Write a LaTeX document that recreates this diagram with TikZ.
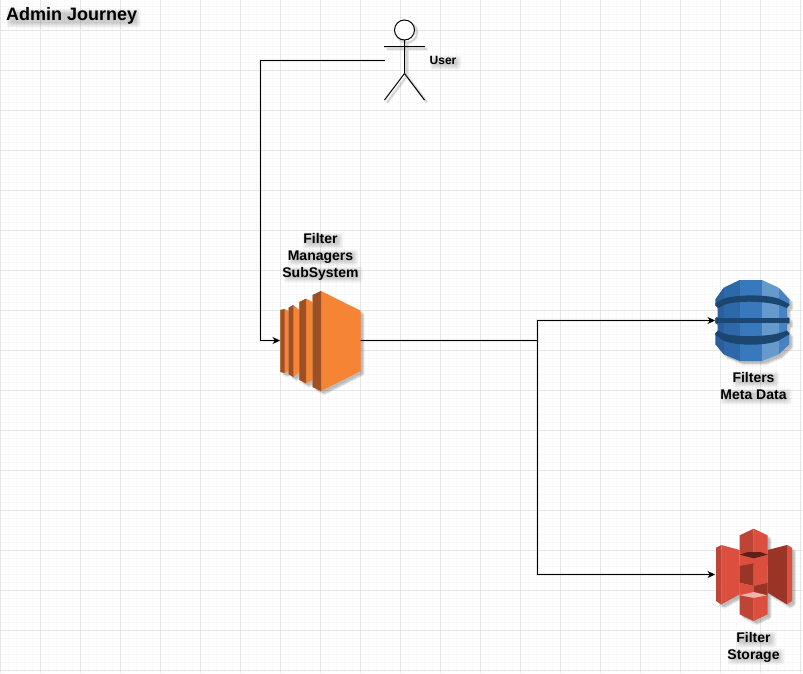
\documentclass[tikz,border=0pt]{standalone}
\usepackage{fontspec}
\setmainfont{Liberation Sans}
\usetikzlibrary{arrows.meta}
\definecolor{gridminor}{HTML}{F8F8F8}
\definecolor{gridmajor}{HTML}{E6E6E6}
\definecolor{ecmain}{HTML}{F58534}
\definecolor{ecdark}{HTML}{9D5025}
\definecolor{dbA}{HTML}{2A5F9C}
\definecolor{dbB}{HTML}{2D68A8}
\definecolor{dbC}{HTML}{3878BC}
\definecolor{dbD}{HTML}{6699CC}
\definecolor{dbE}{HTML}{4583C2}
\definecolor{dbBand}{HTML}{1A4670}
\definecolor{sMain}{HTML}{DC4F3F}
\definecolor{sMid}{HTML}{BE4436}
\definecolor{sDark}{HTML}{9A3427}
\definecolor{sDeep}{HTML}{5E1F18}
\definecolor{sLight}{HTML}{F2B3AB}
\tikzset{
  x=1pt,y=1pt,
  anchorbox/.style={inner sep=0pt,outer sep=0pt,draw=none,minimum width=#1},
  conn/.style={line width=1pt,black,-{Stealth[length=7.5pt,width=7pt]}},
  connshade/.style={line width=2.4pt,black,opacity=.07},
  label/.style={font=\bfseries\fontsize{14}{17}\selectfont,align=center,inner sep=0pt,text=black},
  icon/.style={x=0.33333pt,y=-0.33333pt},
  shade/.style={fill=black,opacity=.07,draw=none},
  smudge/.style={fill=black,opacity=.05,draw=none,rounded corners=2.5pt},
}
% soft drop shadow behind one line of text: centre x, centre y, width, height
\newcommand{\softshade}[4]{%
  \foreach \g in {3,1.5,0,-1.2}{
    \fill[smudge] ({#1+2.5-#3/2-\g},{-#2-2.5+#4/2+\g}) rectangle ({#1+2.5+#3/2+\g},{-#2-2.5-#4/2-\g});
  }
}
\newcommand{\ecoutline}{(31,270)--(44,267)--(56,273)--(56,263)--(70,255)--(88,270)--(88,246)--(108,236)--(128,246)--(128,225)--(153,213)--(272,272)--(272,453)--(153,513)--(128,501)--(128,480)--(108,490)--(88,480)--(88,456)--(70,471)--(56,463)--(56,453)--(44,459)--(31,456)--cycle}
\newcommand{\dboutline}{(10,70)--(35,35)--(83,12)--(150,12)--(200,35)--(232,70)--(232,88)--(225,95)--(225,122)--(232,126)--(232,142)--(225,146)--(225,165)--(232,172)--(232,205)--(200,235)--(150,255)--(83,255)--(35,235)--(10,205)--(10,172)--(17,165)--(17,146)--(10,142)--(10,126)--(17,122)--(17,95)--(10,88)--cycle}
\newcommand{\soutline}{(12,65)--(28,57)--(83,72)--(83,28)--(125,8)--(167,28)--(167,72)--(225,57)--(240,65)--(240,225)--(225,235)--(167,200)--(167,265)--(125,285)--(83,265)--(83,205)--(28,235)--(12,225)--cycle}
\begin{document}
\begin{tikzpicture}[x=1pt,y=1pt]
\useasboundingbox (0,0) rectangle (803,-673);
\fill[white] (0,0) rectangle (803,-673);
% grid
\foreach \i in {0,...,100}{
  \draw[gridminor,line width=1pt] ({0.5+8*\i},0) -- ({0.5+8*\i},-673);
  \draw[gridminor,line width=1pt] (0,{-(-1.5+8*\i)}) -- (803,{-(-1.5+8*\i)});
}
\foreach \i in {0,...,20}{
  \draw[gridmajor,line width=1pt] ({0.5+40*\i},0) -- ({0.5+40*\i},-673);
  \draw[gridmajor,line width=1pt] (0,{-(30.5+40*\i)}) -- (803,{-(30.5+40*\i)});
}
% anchor nodes
\node[anchorbox=80pt,minimum height=100pt] (ec2) at (320,-340.5) {};
\node[anchorbox=73pt,minimum height=81pt] (db) at (751.5,-320.5) {};
\node[anchorbox=77pt,minimum height=94pt] (s3) at (753.5,-574.5) {};
\node[anchorbox=40pt,minimum height=81pt] (user) at (405,-60.5) {};
\coordinate (bendA) at (260.5,-60.5);
\coordinate (junction) at (537.5,-340.5);

% connector shadows
\begin{scope}[shift={(2.5,-2.5)}]
  \draw[connshade] (user.west) -- (bendA) |- (ec2.west);
  \draw[connshade] (ec2.east) -- (junction) |- (db.west);
  \draw[connshade] (junction) |- (s3.west);
\end{scope}
\begin{scope}[shift={(2,-3)}]
  \draw[connshade,line width=1.2pt] (user.west) -- (bendA) |- (ec2.west);
  \draw[connshade,line width=1.2pt] (ec2.east) -- (junction) |- (db.west);
  \draw[connshade,line width=1.2pt] (junction) |- (s3.west);
\end{scope}
% connectors
\draw[conn] (user.west) -- (bendA) |- (ec2.west);
\draw[conn] (ec2.east) -- (junction) |- (db.west);
\draw[conn] (junction) |- (s3.west);

% user
\foreach \s in {3,2}{
  \draw[black,opacity=.08,line width=\s pt,shift={(2.5,-2.5)}] (404.5,-30) circle (10) (404.5,-40) -- (404.5,-73.5) (384,-46.5) -- (425,-46.5) (384.5,-100) -- (404.5,-73.5) -- (424.5,-100);
}
\draw[black,fill=white,line width=1pt] (404.5,-30) circle (10);
\draw[black,line width=1pt] (404.5,-40) -- (404.5,-73.5) (384,-46.5) -- (425,-46.5) (384.5,-100) -- (404.5,-73.5) -- (424.5,-100);

% EC2 icon
\foreach \dx/\dy in {2/-2,3/-3,4/-3,3/-4.5}{
  \begin{scope}[shift={(270+\dx,-220+\dy)},icon]
    \fill[shade] \ecoutline;
  \end{scope}
}
\begin{scope}[shift={(270,-220)},icon]
  \fill[ecmain] (31,270)--(44,267)--(56,273)--(56,453)--(44,459)--(31,456)--cycle;
  \fill[ecdark] (31,270)--(44,267)--(44,459)--(31,456)--cycle;
  \fill[ecmain] (56,263)--(70,255)--(88,270)--(88,456)--(70,471)--(56,463)--cycle;
  \fill[ecdark] (56,263)--(70,255)--(70,471)--(56,463)--cycle;
  \fill[ecmain] (88,246)--(108,236)--(128,246)--(128,480)--(108,490)--(88,480)--cycle;
  \fill[ecdark] (88,246)--(108,236)--(108,490)--(88,480)--cycle;
  \fill[ecmain] (128,225)--(153,213)--(272,272)--(272,453)--(153,513)--(128,501)--cycle;
  \fill[ecdark] (128,225)--(153,213)--(153,513)--(128,501)--cycle;
\end{scope}

% DynamoDB icon
\foreach \dx/\dy in {2/-2,3/-3,4/-3,3/-4.5}{
  \begin{scope}[shift={(712+\dx,-276+\dy)},icon]
    \fill[shade] \dboutline;
  \end{scope}
}
\begin{scope}[shift={(712,-276)},icon]
  \begin{scope}
    \clip \dboutline;
    \fill[dbA] (0,0) rectangle (35,270);
    \fill[dbB] (35,0) rectangle (83,270);
    \fill[dbC] (83,0) rectangle (150,270);
    \fill[dbD] (150,0) rectangle (200,270);
    \fill[dbE] (200,0) rectangle (240,270);
    \fill[dbBand] (0,88) -- (35,68) .. controls (70,56) and (160,54) .. (200,68) -- (240,88) -- (225,97)
        .. controls (190,74) and (60,70) .. (30,90) -- (17,97) -- cycle;
    \fill[dbBand] (0,125) rectangle (240,141);
    \fill[dbBand] (0,170) -- (17,163) -- (30,170) .. controls (60,184) and (180,186) .. (225,163) -- (240,170) -- (200,194)
        .. controls (160,210) and (70,210) .. (35,194) -- cycle;
  \end{scope}
\end{scope}

% S3 icon
\foreach \dx/\dy in {2/-2,3/-3,4/-3,3/-4.5}{
  \begin{scope}[shift={(712+\dx,-526+\dy)},icon]
    \fill[shade] \soutline;
  \end{scope}
}
\begin{scope}[shift={(712,-526)},icon]
  % left wing
  \fill[sMid] (12,65)--(28,57)--(28,235)--(12,225)--cycle;
  \fill[sMain] (28,57)--(83,72)--(83,205)--(28,235)--cycle;
  % right wing
  \fill[sDark] (167,72)--(225,57)--(225,235)--(167,200)--cycle;
  \fill[sMain] (225,57)--(240,65)--(240,225)--(225,235)--cycle;
  % centre column
  \fill[sMain] (83,80)--(167,80)--(167,120)--(83,120)--cycle;
  \fill[sDark] (83,120)--(125,112)--(125,180)--(83,170)--cycle;
  \fill[sMain] (125,112)--(167,120)--(167,170)--(125,180)--cycle;
  \fill[sMain] (83,170)--(125,180)--(125,210)--(83,210)--cycle;
  \fill[sDark] (125,180)--(167,170)--(167,210)--(125,210)--cycle;
  % top cube
  \fill[sMid] (83,28)--(125,8)--(125,95)--(83,80)--cycle;
  \fill[sMain] (125,8)--(167,28)--(167,80)--(125,95)--cycle;
  \fill[sDeep] (83,86)--(108,78)--(145,78)--(167,86)--(125,97)--cycle;
  % bottom cube
  \fill[sLight] (83,208)--(125,198)--(167,208)--(125,216)--cycle;
  \fill[sMid] (83,208)--(125,216)--(125,285)--(83,265)--cycle;
  \fill[sMain] (125,216)--(167,208)--(167,265)--(125,285)--cycle;
\end{scope}

% text shadows
\softshade{71}{15.5}{128}{13}
\softshade{443}{60}{25}{8}
\softshade{320.5}{238}{34}{10}
\softshade{320.5}{255}{64}{10}
\softshade{320.5}{272}{73}{10}
\softshade{753.5}{377}{40}{10}
\softshade{753.5}{394}{65}{10}
\softshade{753.5}{637}{34}{10}
\softshade{753.5}{654}{50}{10}
% texts
\node[label,anchor=west,font=\bfseries\fontsize{18}{22}\selectfont] (title) at (6,-15.5) {Admin Journey};
\node[label,font=\bfseries\fontsize{12}{14}\selectfont] (userlabel) at (443,-60) {User};
\node[label] (eclabel) at (320.5,-257) {Filter\\Managers\\SubSystem};
\node[label] (dblabel) at (753.5,-385.5) {Filters\\Meta Data};
\node[label] (slabel) at (753.5,-647.5) {Filter\\Storage};
\end{tikzpicture}
\end{document}
